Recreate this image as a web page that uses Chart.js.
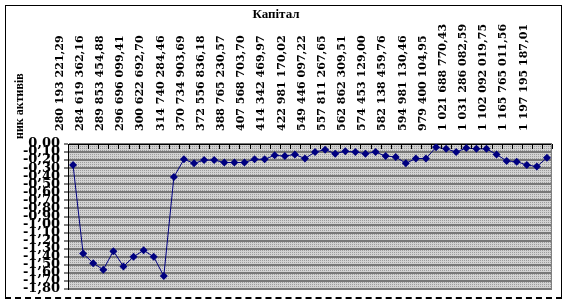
<!DOCTYPE html>
<html><head><meta charset="utf-8">
<script src="https://cdn.jsdelivr.net/npm/chart.js@4"></script>
<style>
html,body{margin:0;padding:0;background:#fff;}
#frame{position:absolute;left:5px;top:5px;width:555px;height:291px;border-left:1px solid #000;border-top:1px solid #000;border-right:1px solid #000;border-bottom:2px dashed #000;}
#wrap{position:absolute;left:0;top:0;width:566px;height:304px;}
</style></head><body>
<div id="frame"></div>
<div id="wrap"><canvas id="c" width="566" height="304"></canvas></div>
<script>
const chartTitle = 'Капітал';
const yTitle = 'ник активів';
const categories = [
  '280 193 221,29','', '284 619 362,16','', '289 853 454,88','', '296 696 099,41','',
  '300 622 692,70','', '314 740 284,46','', '370 734 903,69','', '372 556 836,18','',
  '388 765 230,57','', '407 568 703,70','', '414 342 469,97','', '422 981 170,02','',
  '549 446 097,22','', '557 811 267,65','', '562 862 309,51','', '574 453 129,00','',
  '582 138 459,76','', '594 981 130,46','', '979 400 104,95','', '1 021 688 770,43','',
  '1 031 286 082,59','', '1 102 092 019,75','', '1 165 765 011,56','', '1 197 195 187,01',''
];
const values = [
  -0.26,-1.36,-1.48,-1.56,-1.33,-1.52,-1.40,-1.32,-1.40,-1.64,
  -0.41,-0.19,-0.24,-0.20,-0.20,-0.23,-0.23,-0.23,-0.19,-0.19,
  -0.14,-0.15,-0.13,-0.18,-0.10,-0.07,-0.12,-0.09,-0.10,-0.12,
  -0.10,-0.15,-0.16,-0.24,-0.18,-0.18,-0.04,-0.06,-0.10,-0.05,
  -0.06,-0.06,-0.13,-0.21,-0.22,-0.26,-0.28,-0.17
];
const yMin = -1.8, yMax = 0, yStep = 0.1;

function makePattern(ctx){
  const p = document.createElement('canvas');
  p.width = 2; p.height = 2;
  const g = p.getContext('2d');
  g.fillStyle = '#d2d2d2'; g.fillRect(0,0,2,2);
  g.fillStyle = '#9c9c9c'; g.fillRect(0,0,1,1);
  return ctx.createPattern(p,'repeat');
}

const decor = {
  id:'decor',
  beforeDraw(chart){
    const {ctx, chartArea:a} = chart;
    ctx.save();
    ctx.fillStyle = makePattern(ctx);
    ctx.fillRect(a.left, a.top, a.right-a.left, a.bottom-a.top);
    ctx.translate(20, 139);
    ctx.rotate(-Math.PI/2);
    ctx.font = 'bold 12px "Liberation Serif"';
    ctx.fillStyle = '#000';
    ctx.textAlign = 'left';
    ctx.textBaseline = 'middle';
    ctx.fillText(yTitle, 0, 0);
    ctx.restore();
  },
  afterDraw(chart){
    const {ctx, chartArea:a} = chart;
    const xs = chart.scales.x;
    ctx.save();
    ctx.strokeStyle = '#808080';
    ctx.lineWidth = 1;
    ctx.beginPath();
    ctx.moveTo(a.right-0.5, a.top); ctx.lineTo(a.right-0.5, a.bottom);
    ctx.stroke();
    ctx.strokeStyle = '#000';
    ctx.beginPath();
    const n = categories.length;
    for (let i=0;i<=n;i++){
      let x;
      if (i===0) x = a.left;
      else if (i===n) x = a.right;
      else x = (xs.getPixelForValue(i-1)+xs.getPixelForValue(i))/2;
      x = Math.round(x)+0.5;
      ctx.moveTo(x, a.top); ctx.lineTo(x, a.top+5);
    }
    ctx.stroke();
    ctx.restore();
  }
};

new Chart(document.getElementById('c'), {
  type:'line',
  data:{labels:categories, datasets:[{
    data:values, borderColor:'#000080', borderWidth:1, backgroundColor:'#000080',
    pointStyle:'rectRot', pointRadius:4, pointBackgroundColor:'#000080', pointBorderColor:'#000080',
    pointBorderWidth:0, tension:0, fill:false
  }]},
  options:{
    responsive:false, animation:false, devicePixelRatio:1,
    layout:{padding:{left:0,right:14,top:0,bottom:15}},
    plugins:{
      legend:{display:false}, tooltip:{enabled:false},
      title:{display:true, text:chartTitle, color:'#000',
        font:{family:'Liberation Serif', size:13, weight:'bold', lineHeight:1.2},
        padding:{top:7,bottom:0}}
    },
    scales:{
      x:{type:'category', position:'top', offset:true,
        grid:{display:false, drawTicks:false, offset:true},
        border:{display:true, color:'#000', width:1},
        ticks:{autoSkip:false, minRotation:90, maxRotation:90, padding:13, color:'#000',
          font:{family:'DejaVu Serif', size:11, weight:'bold'}},
        afterFit(s){ s.height = 144 - 22.6; }
      },
      y:{min:yMin, max:yMax,
        ticks:{stepSize:yStep, autoSkip:false, padding:4, color:'#000',
          font:{family:'DejaVu Serif', size:13, weight:'bold'},
          callback:(v)=> (Math.abs(v)<1e-9?0:v).toFixed(2).replace('.',',')},
        grid:{color:'#777', lineWidth:2, drawTicks:true, tickLength:4, tickColor:'#000', tickWidth:1},
        border:{display:true, color:'#000', width:1},
        afterFit(s){ s.width = 68; }
      }
    }
  },
  plugins:[decor]
});
</script>
</body></html>
